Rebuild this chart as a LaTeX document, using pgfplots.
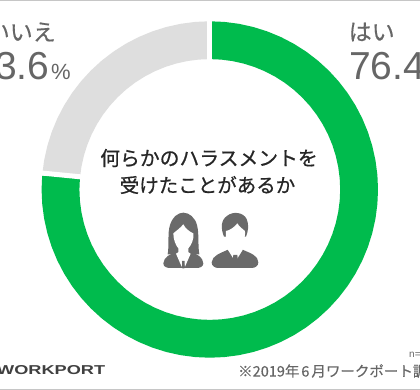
\documentclass[border=0pt]{standalone}
\usepackage{fontspec}
\usepackage{graphicx}
\usepackage{pgfplots}
\pgfplotsset{compat=1.18}
\setmainfont{Liberation Sans}
\newfontfamily\cjk[AutoFakeBold=0.35]{Noto Sans CJK JP}
\newfontfamily\cjkt[AutoFakeBold=0.7]{Noto Sans CJK JP}
\definecolor{ggreen}{HTML}{00BB4D}
\definecolor{ggray}{HTML}{DEDEDE}
\definecolor{tgray}{HTML}{666666}
\definecolor{igray}{HTML}{6A6A6A}
\begin{document}
\begin{tikzpicture}[x=1pt,y=1pt]
\clip (0,0) rectangle (420,390);
\fill[white] (0,0) rectangle (420,390);
\begin{axis}[at={(0pt,0pt)},anchor=south west,scale only axis,width=420pt,height=390pt,
  hide axis,xmin=-209.8,xmax=210.2,ymin=-200.5,ymax=189.5,clip=false]
% yes: 76.4 %, clockwise from the top
\addplot[data cs=polar,color=ggreen,line width=37.8pt,no markers,line join=round] coordinates {
(90,149.3)(85,149.3)(80,149.3)(75,149.3)(70,149.3)(65,149.3)(60,149.3)(55,149.3)(50,149.3)(45,149.3)
(40,149.3)(35,149.3)(30,149.3)(25,149.3)(20,149.3)(15,149.3)(10,149.3)(5,149.3)(0,149.3)
(-5,149.3)(-10,149.3)(-15,149.3)(-20,149.3)(-25,149.3)(-30,149.3)(-35,149.3)(-40,149.3)(-45,149.3)
(-50,149.3)(-55,149.3)(-60,149.3)(-65,149.3)(-70,149.3)(-75,149.3)(-80,149.3)(-85,149.3)(-90,149.3)
(-95,149.3)(-100,149.3)(-105,149.3)(-110,149.3)(-115,149.3)(-120,149.3)(-125,149.3)(-130,149.3)(-135,149.3)
(-140,149.3)(-145,149.3)(-150,149.3)(-155,149.3)(-160,149.3)(-165,149.3)(-170,149.3)(-175,149.3)(-180,149.3)(-185,149.3)};
% no: 23.6 %
\addplot[data cs=polar,color=ggray,line width=37.8pt,no markers,line join=round] coordinates {
(175,149.3)(170,149.3)(165,149.3)(160,149.3)(155,149.3)(150,149.3)(145,149.3)(140,149.3)(135,149.3)
(130,149.3)(125,149.3)(120,149.3)(115,149.3)(110,149.3)(105,149.3)(100,149.3)(95,149.3)(90,149.3)};
% white gaps
\addplot[data cs=polar,color=white,line width=5pt,no markers] coordinates {(90,120)(90,180)};
\addplot[data cs=polar,color=white,line width=5pt,no markers] coordinates {(174.4,120)(174.4,180)};
\end{axis}
\begin{scope}[yshift=390pt,y=-1pt]
\fill[gray!45] (0,0) rectangle (420,1.2);
\fill[gray!45] (0,388.8) rectangle (420,390);
% labels
\node[anchor=west,inner sep=0,text=tgray,font=\cjk\bfseries\fontsize{23}{23}\selectfont] at (348.5,32) {はい};
\node[anchor=west,inner sep=0,text=tgray,font=\fontsize{39}{39}\selectfont] at (349,66) {76.4};
\node[anchor=east,inner sep=0,text=tgray,font=\cjk\bfseries\fontsize{23}{23}\selectfont] at (56,32) {いいえ};
\node[anchor=east,inner sep=0,text=tgray,font=\fontsize{39}{39}\selectfont] at (49.5,66) {23.6};
\node[anchor=base west,inner sep=0,text=tgray,font=\fontsize{22}{22}\selectfont] at (51,80) {\%};
% centre title
\node[inner sep=0,text=black!85,font=\cjkt\bfseries\fontsize{19.8}{19.8}\selectfont] at (209,158) {何らかのハラスメントを};
\node[inner sep=0,text=black!85,font=\cjkt\bfseries\fontsize{19.5}{19.5}\selectfont] at (207.5,185) {受けたことがあるか};
% footer
\node[anchor=west,inner sep=0,text=black!75] at (-3,370.5) {\resizebox{108pt}{9pt}{\bfseries WORKPORT}};
\node[anchor=west,inner sep=0,text=tgray,font=\cjk\bfseries\fontsize{14.5}{14.5}\selectfont] at (238,371) {※2019年\hspace{2pt}6\hspace{2pt}月ワークポート調べ};
\node[anchor=west,inner sep=0,text=tgray,font=\fontsize{10}{10}\selectfont] at (409,355) {n=};
% icons
\begin{scope}[xshift=150pt,yshift=-205pt,x=0.3333pt,y=-0.3333pt]
 \fill[igray] (53,148) .. controls (58,120) and (52,85) .. (60,60) .. controls (68,35) and (85,23) .. (100,23)
   .. controls (118,23) and (135,38) .. (141,60) .. controls (148,88) and (143,120) .. (148,148) -- cycle;
 \fill[igray] (40,175) .. controls (42,155) and (60,148) .. (80,140) -- (120,140)
   .. controls (142,148) and (158,155) .. (160,175) .. controls (160,185) and (150,189) .. (140,189) -- (60,189)
   .. controls (50,189) and (40,185) .. (40,175) -- cycle;
 \fill[white] (100,58) .. controls (90,70) and (78,78) .. (70,85) .. controls (70,105) and (78,122) .. (85,130)
   -- (85,150) -- (100,180) -- (115,150) -- (115,130) .. controls (124,120) and (132,105) .. (130,85)
   .. controls (118,80) and (106,70) .. (100,58) -- cycle;
 \fill[white] (78,146) -- (95,185) -- (100,165) -- (105,185) -- (122,146) -- (112,140) -- (100,158) -- (88,140) -- cycle;
 \fill[igray] (96,168) -- (104,168) -- (103,190) -- (97,190) -- cycle;
 % man
 \fill[igray] (222,95) .. controls (212,70) and (212,45) .. (232,32) .. controls (250,18) and (280,22) .. (290,42)
   .. controls (298,60) and (294,80) .. (288,95) -- cycle;
 \fill[igray] (185,172) .. controls (187,152) and (210,145) .. (232,135) -- (280,135)
   .. controls (302,145) and (325,152) .. (325,172) .. controls (325,183) and (315,189) .. (305,189) -- (205,189)
   .. controls (195,189) and (185,183) .. (185,172) -- cycle;
 \fill[white] (228,78) .. controls (240,76) and (255,65) .. (262,55) .. controls (268,65) and (278,72) .. (285,78)
   .. controls (286,100) and (280,112) .. (273,122) -- (278,135) -- (256,170) -- (234,135) -- (238,122)
   .. controls (232,112) and (226,98) .. (228,78) -- cycle;
 \fill[igray] (250,150) -- (262,150) -- (265,178) -- (256,186) -- (247,178) -- cycle;
\end{scope}
\end{scope}
\end{tikzpicture}
\end{document}
